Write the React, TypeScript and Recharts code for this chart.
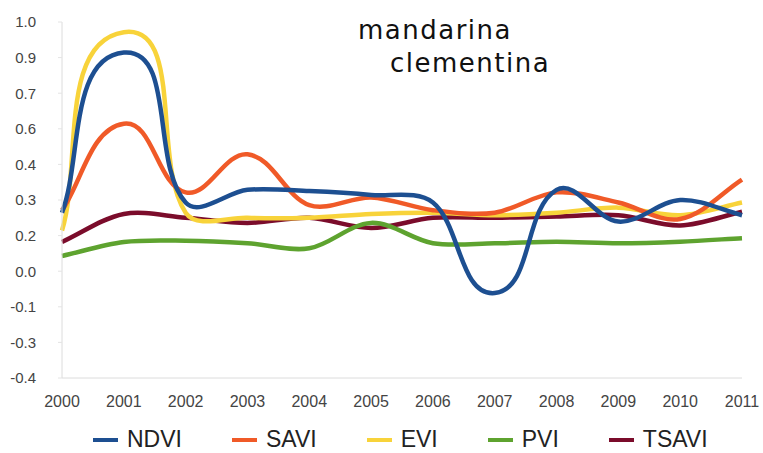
import React from 'react';
import { LineChart, Line, XAxis, YAxis } from 'recharts';

const years = ['2000', '2001', '2002', '2003', '2004', '2005', '2006', '2007', '2008', '2009', '2010', '2011'];

const ndvi = [0.25, 0.88, 0.29, 0.34, 0.335, 0.32, 0.29, -0.066, 0.34, 0.215, 0.3, 0.24];
const savi = [0.26, 0.6, 0.33, 0.48, 0.28, 0.31, 0.26, 0.25, 0.33, 0.29, 0.225, 0.38];
const evi = [0.18, 0.96, 0.25, 0.23, 0.23, 0.245, 0.25, 0.24, 0.25, 0.27, 0.24, 0.29];
const pvi = [0.08, 0.135, 0.14, 0.13, 0.11, 0.21, 0.13, 0.13, 0.136, 0.13, 0.136, 0.15];
const tsavi = [0.135, 0.245, 0.23, 0.21, 0.23, 0.19, 0.23, 0.23, 0.235, 0.24, 0.2, 0.254];

// evenly spaced ticks, shown rounded to one decimal like the original
const yTicks = [-0.4, -0.26, -0.12, 0.02, 0.16, 0.3, 0.44, 0.58, 0.72, 0.86, 1.0];

const series = [
  { key: 'NDVI', color: '#1d4f91' },
  { key: 'SAVI', color: '#f05a28' },
  { key: 'EVI', color: '#f8d33a' },
  { key: 'PVI', color: '#5ea32f' },
  { key: 'TSAVI', color: '#7b0c2b' },
];

const data = years.map((year, i) => ({
  year,
  NDVI: ndvi[i],
  SAVI: savi[i],
  EVI: evi[i],
  PVI: pvi[i],
  TSAVI: tsavi[i],
}));

// office-style smoothing: tangent from the neighbours, handle length
// taken from the segment's own chord, so steep jumps get round shoulders
const K = 0.32;
const smooth = (ctx: any) => {
  let pts: number[][] = [];
  return {
    areaStart() {},
    areaEnd() {},
    lineStart() {
      pts = [];
    },
    point(x: number, y: number) {
      pts.push([+x, +y]);
    },
    lineEnd() {
      const n = pts.length;
      if (!n) return;
      ctx.moveTo(pts[0][0], pts[0][1]);
      if (n === 1) return;
      const tan = pts.map((_, i) => {
        const a = pts[Math.max(i - 1, 0)];
        const b = pts[Math.min(i + 1, n - 1)];
        const dx = b[0] - a[0];
        const dy = b[1] - a[1];
        const len = Math.hypot(dx, dy) || 1;
        return [dx / len, dy / len];
      });
      for (let i = 0; i < n - 1; i++) {
        const p1 = pts[i];
        const p2 = pts[i + 1];
        const d = Math.hypot(p2[0] - p1[0], p2[1] - p1[1]) * K;
        ctx.bezierCurveTo(
          p1[0] + tan[i][0] * d,
          p1[1] + tan[i][1] * d,
          p2[0] - tan[i + 1][0] * d,
          p2[1] - tan[i + 1][1] * d,
          p2[0],
          p2[1]
        );
      }
    },
  };
};

// draw order: blue on top
const drawOrder = ['TSAVI', 'PVI', 'EVI', 'SAVI', 'NDVI'];

const font = "'Liberation Sans', Arial, Helvetica, sans-serif";

export default function App() {
  return (
    <div style={{ position: 'absolute', left: 0, top: 0, width: 763, height: 453, background: '#fff' }}>
      <LineChart width={763} height={410} data={data} margin={{ top: 22, right: 21, bottom: 0, left: 0 }}>
        <XAxis
          dataKey="year"
          interval={0}
          tickLine={false}
          tickMargin={12}
          height={32}
          axisLine={{ stroke: '#dcdcdc' }}
          tick={{ fill: '#444', fontSize: 16, fontFamily: font }}
        />
        <YAxis
          type="number"
          domain={[-0.4, 1.0]}
          ticks={yTicks}
          width={62}
          tickSize={4}
          tickMargin={22}
          tickLine={{ stroke: '#e4e4e4' }}
          axisLine={{ stroke: '#dcdcdc' }}
          tickFormatter={(v: number) => v.toFixed(1)}
          tick={{ fill: '#444', fontSize: 15, fontFamily: font }}
        />
        {drawOrder.map((k) => {
          const s = series.find((x) => x.key === k)!;
          return (
            <Line
              key={k}
              dataKey={k}
              type={smooth as any}
              stroke={s.color}
              strokeWidth={4.5}
              dot={false}
              activeDot={false}
              isAnimationActive={false}
            />
          );
        })}
      </LineChart>

      <div
        style={{
          position: 'absolute',
          left: 358,
          top: 14,
          fontFamily: "'DejaVu Sans', sans-serif",
          fontSize: 26,
          letterSpacing: 1.5,
          color: '#111',
          lineHeight: '33px',
        }}
      >
        <div>mandarina</div>
        <div style={{ paddingLeft: 32 }}>clementina</div>
      </div>

      <div
        style={{
          position: 'absolute',
          left: 93,
          top: 426,
          display: 'flex',
          alignItems: 'center',
          gap: 50,
          fontFamily: font,
          fontSize: 23,
          color: '#222',
        }}
      >
        {series.map((s) => (
          <div key={s.key} style={{ display: 'flex', alignItems: 'center' }}>
            <div style={{ width: 25, height: 4, background: s.color, marginRight: 9 }} />
            <span>{s.key}</span>
          </div>
        ))}
      </div>
    </div>
  );
}
